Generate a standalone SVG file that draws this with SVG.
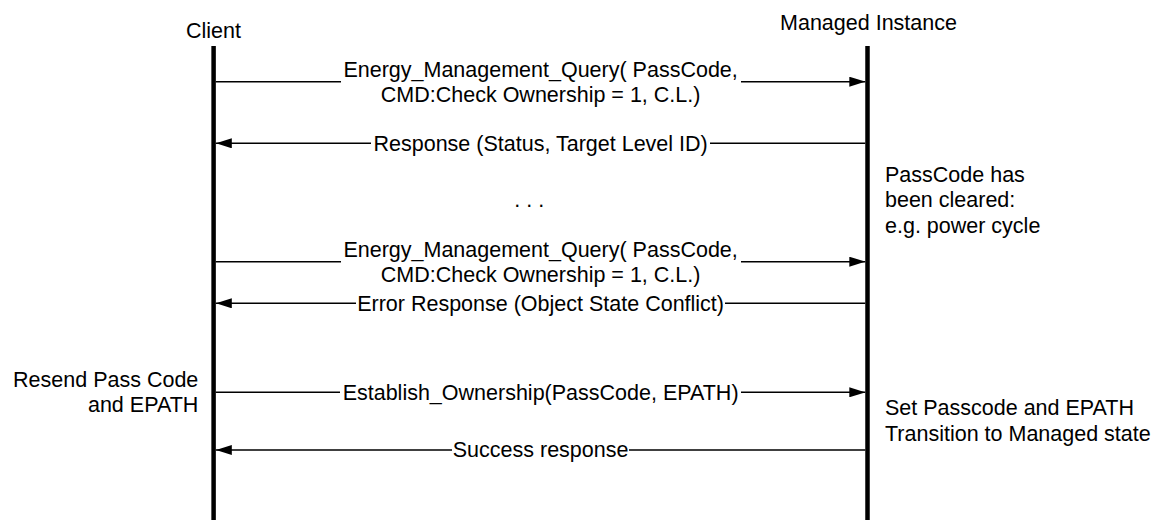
<svg xmlns="http://www.w3.org/2000/svg" width="1170" height="520" viewBox="0 0 1170 520">
<style>
text{font-family:"Liberation Sans",Arial,sans-serif;font-size:21.5px;fill:#000}
.m{text-anchor:middle}
.e{text-anchor:end}
.life{stroke:#000;stroke-width:4.5;fill:none}
.msg{stroke:#000;stroke-width:1.4;fill:none}
</style>
<defs>
<marker id="ah" viewBox="0 0 16 10" refX="16" refY="5" markerWidth="16" markerHeight="10" markerUnits="userSpaceOnUse" orient="auto">
<path d="M0,0 L16,5 L0,10 Z" fill="#000"/>
</marker>
</defs>
<rect width="1170" height="520" fill="#fff"/>
<g id="client">
<text class="m" x="213.5" y="37.5">Client</text>
<line class="life" x1="213.6" y1="46" x2="213.6" y2="520"/>
</g>
<g id="managed">
<text class="m" x="868.5" y="29.5">Managed Instance</text>
<line class="life" x1="867.5" y1="46" x2="867.5" y2="520"/>
</g>
<g id="connectors">
<g id="m1">
<line class="msg" x1="215.7" y1="81.7" x2="341" y2="81.7"/>
<line class="msg" x1="741" y1="81.7" x2="865.3" y2="81.7" marker-end="url(#ah)"/>
<text class="m" x="540.6" y="76.5">Energy_Management_Query( PassCode,</text>
<text class="m" x="540.6" y="102">CMD:Check Ownership = 1, C.L.)</text>
</g>
<g id="m2">
<line class="msg" x1="865.3" y1="143.3" x2="710" y2="143.3"/>
<line class="msg" x1="371" y1="143.3" x2="215.8" y2="143.3" marker-end="url(#ah)"/>
<text class="m" x="540.6" y="150.7">Response (Status, Target Level ID)</text>
</g>
<g id="m3">
<line class="msg" x1="215.7" y1="261.7" x2="341" y2="261.7"/>
<line class="msg" x1="741" y1="261.7" x2="865.3" y2="261.7" marker-end="url(#ah)"/>
<text class="m" x="540.6" y="256.5">Energy_Management_Query( PassCode,</text>
<text class="m" x="540.6" y="282">CMD:Check Ownership = 1, C.L.)</text>
</g>
<g id="m4">
<line class="msg" x1="865.3" y1="303.3" x2="725" y2="303.3"/>
<line class="msg" x1="356" y1="303.3" x2="215.8" y2="303.3" marker-end="url(#ah)"/>
<text class="m" x="540.6" y="310.7">Error Response (Object State Conflict)</text>
</g>
<g id="m5">
<line class="msg" x1="215.7" y1="392.3" x2="340" y2="392.3"/>
<line class="msg" x1="741" y1="392.3" x2="865.3" y2="392.3" marker-end="url(#ah)"/>
<text class="m" x="540.6" y="399.7">Establish_Ownership(PassCode, EPATH)</text>
</g>
<g id="m6">
<line class="msg" x1="865.3" y1="450" x2="629" y2="450"/>
<line class="msg" x1="452" y1="450" x2="215.8" y2="450" marker-end="url(#ah)"/>
<text class="m" x="540.6" y="457.4">Success response</text>
</g>
</g>
<text x="514.3" y="207">. . .</text>
<g id="note-cleared">
<text x="885" y="181.5">PassCode has</text>
<text x="885" y="207">been cleared:</text>
<text x="885" y="232.5">e.g. power cycle</text>
</g>
<g id="note-resend">
<text class="e" x="198.3" y="386.5">Resend Pass Code</text>
<text class="e" x="198.3" y="412.3">and EPATH</text>
</g>
<g id="note-set">
<text x="885" y="415">Set Passcode and EPATH</text>
<text x="885" y="440.8">Transition to Managed state</text>
</g>
</svg>
